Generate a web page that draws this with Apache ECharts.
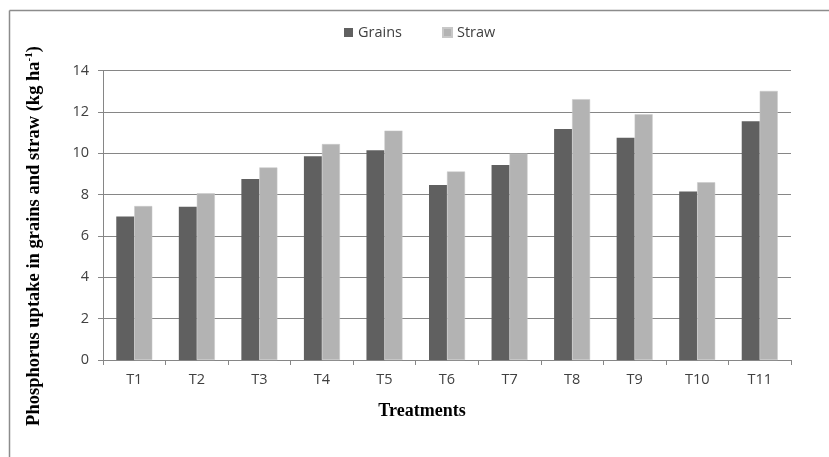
<!DOCTYPE html>
<html>
<head>
<meta charset="utf-8">
<script src="https://cdn.jsdelivr.net/npm/echarts@6/dist/echarts.min.js"></script>
<style>html,body{margin:0;padding:0;background:#fff;}#c{width:829px;height:457px;}</style>
</head>
<body>
<div id="c"></div>
<script>
var categories = ['T1','T2','T3','T4','T5','T6','T7','T8','T9','T10','T11'];
var grains = [6.94, 7.42, 8.76, 9.86, 10.15, 8.47, 9.44, 11.18, 10.75, 8.15, 11.55];
var straw = [7.45, 8.07, 9.32, 10.45, 11.10, 9.12, 9.99, 12.62, 11.89, 8.60, 13.02];
var yTicks = [0, 2, 4, 6, 8, 10, 12, 14];

var chart = echarts.init(document.getElementById('c'), null, {renderer: 'canvas'});
var labelFont = '"Open Sans", "DejaVu Sans", sans-serif';
chart.setOption({
  animation: false,
  backgroundColor: '#fff',
  grid: {left: 103, right: 38, top: 70.7, bottom: 97, containLabel: false},
  legend: {
    data: ['Grains', 'Straw'],
    top: 20, left: 339,
    itemWidth: 9, itemHeight: 9, itemGap: 40,
    icon: 'rect',
    textStyle: {fontFamily: labelFont, fontSize: 14.5, color: '#404040'}
  },
  xAxis: {
    type: 'category',
    data: categories,
    axisLine: {lineStyle: {color: '#868686', width: 1}},
    axisTick: {show: true, length: 5, lineStyle: {color: '#868686'}},
    axisLabel: {fontFamily: labelFont, fontSize: 14.5, color: '#404040', margin: 12}
  },
  yAxis: {
    type: 'value',
    min: yTicks[0], max: yTicks[yTicks.length - 1], interval: 2,
    axisLine: {show: true, lineStyle: {color: '#868686', width: 1}},
    axisTick: {show: true, length: 5, lineStyle: {color: '#868686'}},
    splitLine: {lineStyle: {color: '#868686', width: 1}},
    axisLabel: {fontFamily: labelFont, fontSize: 14.5, color: '#404040', margin: 14}
  },
  series: [
    {name: 'Grains', type: 'bar', data: grains, barWidth: 18, barGap: '0%',
     itemStyle: {color: '#606060'}},
    {name: 'Straw', type: 'bar', data: straw, barWidth: 18,
     itemStyle: {color: '#b3b3b3', borderColor: '#c8c8c8', borderWidth: 0.5}}
  ],
  graphic: [
    {type: 'line', shape: {x1: 9.5, y1: 10.5, x2: 829, y2: 10.5}, style: {stroke: '#8c8c8c', lineWidth: 1.5}},
    {type: 'line', shape: {x1: 9.5, y1: 10.5, x2: 9.5, y2: 457}, style: {stroke: '#8c8c8c', lineWidth: 1.5}},
    {type: 'text', x: 422, y: 411,
     style: {text: 'Treatments', align: 'center', verticalAlign: 'middle',
             font: 'bold 18px "Liberation Serif", "DejaVu Serif", serif', fill: '#000'}},
    {type: 'text', x: 34, y: 236, rotation: Math.PI / 2,
     style: {
       text: '{n|Phosphorus uptake in grains and straw (kg ha}{s|-1}{n|)}',
       align: 'center', verticalAlign: 'middle',
       rich: {
         n: {font: 'bold 18.5px "Liberation Serif", "DejaVu Serif", serif', fill: '#000'},
         s: {font: 'bold 11px "Liberation Serif", "DejaVu Serif", serif', fill: '#000', padding: [0, 0, 9, 0]}
       }
     }}
  ]
});
</script>
</body>
</html>
